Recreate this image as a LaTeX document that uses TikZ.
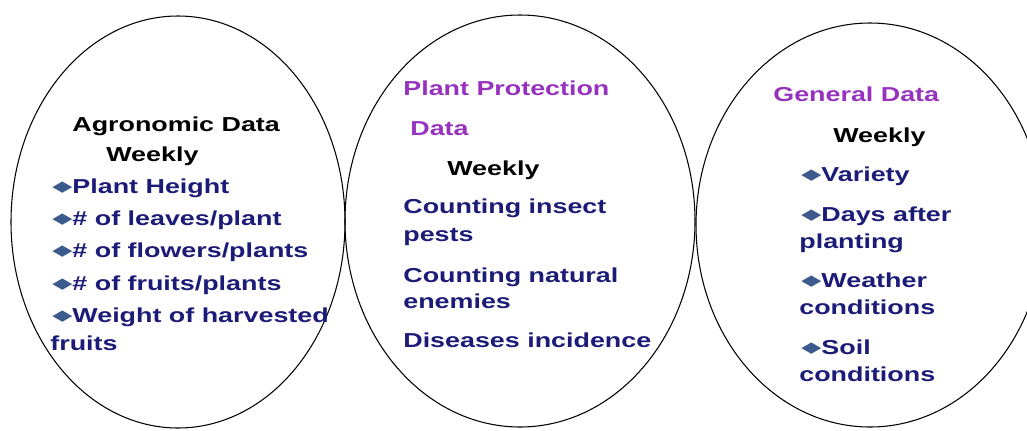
\documentclass[tikz,border=0pt]{standalone}
\usepackage{fontspec}
\setmainfont{Liberation Sans}[FakeStretch=1.33]
\newfontfamily\diafont{DejaVu Sans}[FakeStretch=1.75]
\definecolor{navytxt}{RGB}{28,28,120}
\definecolor{purpletxt}{RGB}{150,50,190}
\definecolor{diablue}{RGB}{60,90,140}
\newcommand{\dia}{{\color{diablue}\diafont\fontsize{8.5}{9}\selectfont\raisebox{0.8pt}{◆}}}
\begin{document}
\begin{tikzpicture}[x=0.02cm,y=-0.02cm]
  \tikzset{lbl/.style={anchor=base west,inner sep=0pt,font=\bfseries\fontsize{11.5}{14}\selectfont},
    head/.style={lbl,text=purpletxt},
    wk/.style={lbl,text=black},
    item/.style={lbl,text=navytxt}}
  \useasboundingbox (0,0) rectangle (1027,430);
  \draw[line width=0.6pt] (178,222) ellipse [x radius=167,y radius=206];
  \draw[line width=0.6pt] (520,221) ellipse [x radius=175,y radius=206];
  \draw[line width=0.6pt] (870,225) ellipse [x radius=174,y radius=202];
  % agronomic
  \node[wk] (agro) at (72,131) {Agronomic Data};
  \node[wk] (agrowk) at (106,161) {Weekly};
  \node[item] (a1) at (52,193) {\dia Plant Height};
  \node[item] (a2) at (52,225) {\dia\# of leaves/plant};
  \node[item] (a3) at (52,257) {\dia\# of flowers/plants};
  \node[item] (a4) at (52,290) {\dia\# of fruits/plants};
  \node[item] (a5) at (52,322) {\dia Weight of harvested};
  \node[item] (a6) at (50,350) {fruits};
  % plant protection
  \node[head] (prot) at (403,95) {Plant Protection};
  \node[head] (protb) at (410,135) {Data};
  \node[wk] (protwk) at (447,175) {Weekly};
  \node[item] (p1) at (403,213) {Counting insect};
  \node[item] (p2) at (403,241) {pests};
  \node[item] (p3) at (403,282) {Counting natural};
  \node[item] (p4) at (403,308) {enemies};
  \node[item] (p5) at (403,347) {Diseases incidence};
  % general
  \node[head] (gen) at (773,101) {General Data};
  \node[wk] (genwk) at (833,142) {Weekly};
  \node[item] (g1) at (801,181) {\dia Variety};
  \node[item] (g2) at (801,221) {\dia Days after};
  \node[item] (g3) at (799,248) {planting};
  \node[item] (g4) at (801,287) {\dia Weather};
  \node[item] (g5) at (799,314) {conditions};
  \node[item] (g6) at (801,354) {\dia Soil};
  \node[item] (g7) at (799,381) {conditions};
\end{tikzpicture}
\end{document}
